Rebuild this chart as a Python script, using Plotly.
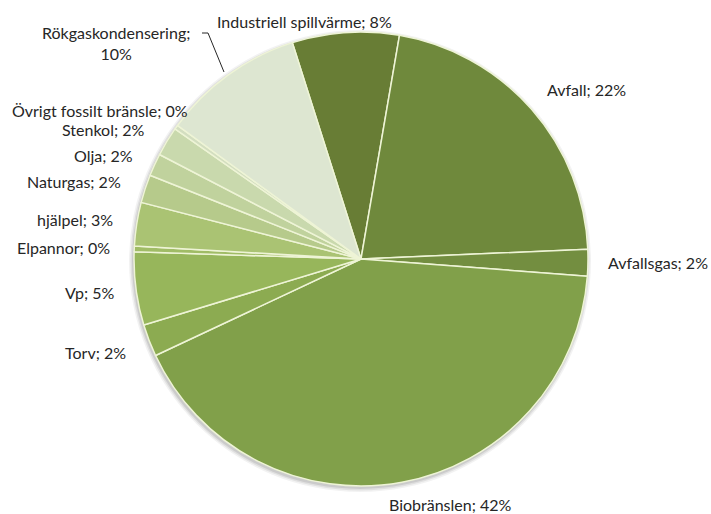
import plotly.graph_objects as go

# District heating supply by energy source (share of total, %)
sources = [
    "Industriell spillvärme", "Avfall", "Avfallsgas", "Biobränslen", "Torv",
    "Vp", "Elpannor", "hjälpel", "Naturgas", "Olja", "Stenkol",
    "Övrigt fossilt bränsle", "Rökgaskondensering",
]
shares = [7.6, 21.6, 1.9, 41.8, 2.3, 5.2, 0.4, 3.1, 2.0, 1.6, 2.1, 0.3, 10.1]

colors = [
    "#687D35", "#6F893C", "#738E40", "#81A04A", "#8CAB51", "#97B65B",
    "#A0BC66", "#AAC373", "#B6CA8B", "#C0D29D", "#C9D9AD", "#D3DEC0",
    "#DDE6D1",
]

W, H = 711, 514
cx, cy, r = 361, 259, 227

# label anchor points (pixels, centre of text)
label_xy = [
    (304, 22), (586, 89), (658, 262), (450, 504), (96, 352), (89, 292),
    (63, 247), (75, 219), (74, 181), (103, 155), (103, 129), (100, 110),
    (116, 43),
]


def px(x):
    return x / W


def py(y):
    return 1 - y / H


fig = go.Figure(go.Pie(
    labels=sources,
    values=shares,
    sort=False,
    direction="clockwise",
    rotation=-17.6,
    marker=dict(colors=colors, line=dict(color="#EEF4D6", width=1.5)),
    textinfo="none",
    hoverinfo="label+percent",
    domain=dict(x=[px(cx - r), px(cx + r)], y=[py(cy + r), py(cy - r)]),
    showlegend=False,
))

total = sum(shares)
annotations = []
for name, v, (x, y) in zip(sources, shares, label_xy):
    pct = round(100 * v / total)
    sep = "<br>" if name == "Rökgaskondensering" else " "
    annotations.append(dict(
        x=px(x), y=py(y), xref="paper", yref="paper",
        text=f"{name};{sep}{pct}%", showarrow=False,
        xanchor="center", yanchor="middle", borderpad=0,
        font=dict(family="Lato, Open Sans, sans-serif", size=16, color="#262626"),
    ))

# leader line for the Rökgaskondensering label
leader = (f"M {px(202)} {py(33)} L {px(208)} {py(33)} "
          f"L {px(224)} {py(72)}")
shapes = [dict(type="path", path=leader, xref="paper", yref="paper",
               line=dict(color="#262626", width=1))]

# soft drop shadow under the pie
for grow, alpha in [(4, 0.05), (2.5, 0.07), (1, 0.09)]:
    sx, sy = cx - 1, cy + 2
    shapes.append(dict(
        type="circle", xref="paper", yref="paper", layer="below",
        x0=px(sx - r - grow), x1=px(sx + r + grow),
        y0=py(sy + r + grow), y1=py(sy - r - grow),
        fillcolor=f"rgba(0,0,0,{alpha})", line=dict(width=0),
    ))

fig.update_layout(
    width=W, height=H,
    margin=dict(l=0, r=0, t=0, b=0),
    paper_bgcolor="white",
    plot_bgcolor="white",
    annotations=annotations,
    shapes=shapes,
)

fig.write_html("out.html")
